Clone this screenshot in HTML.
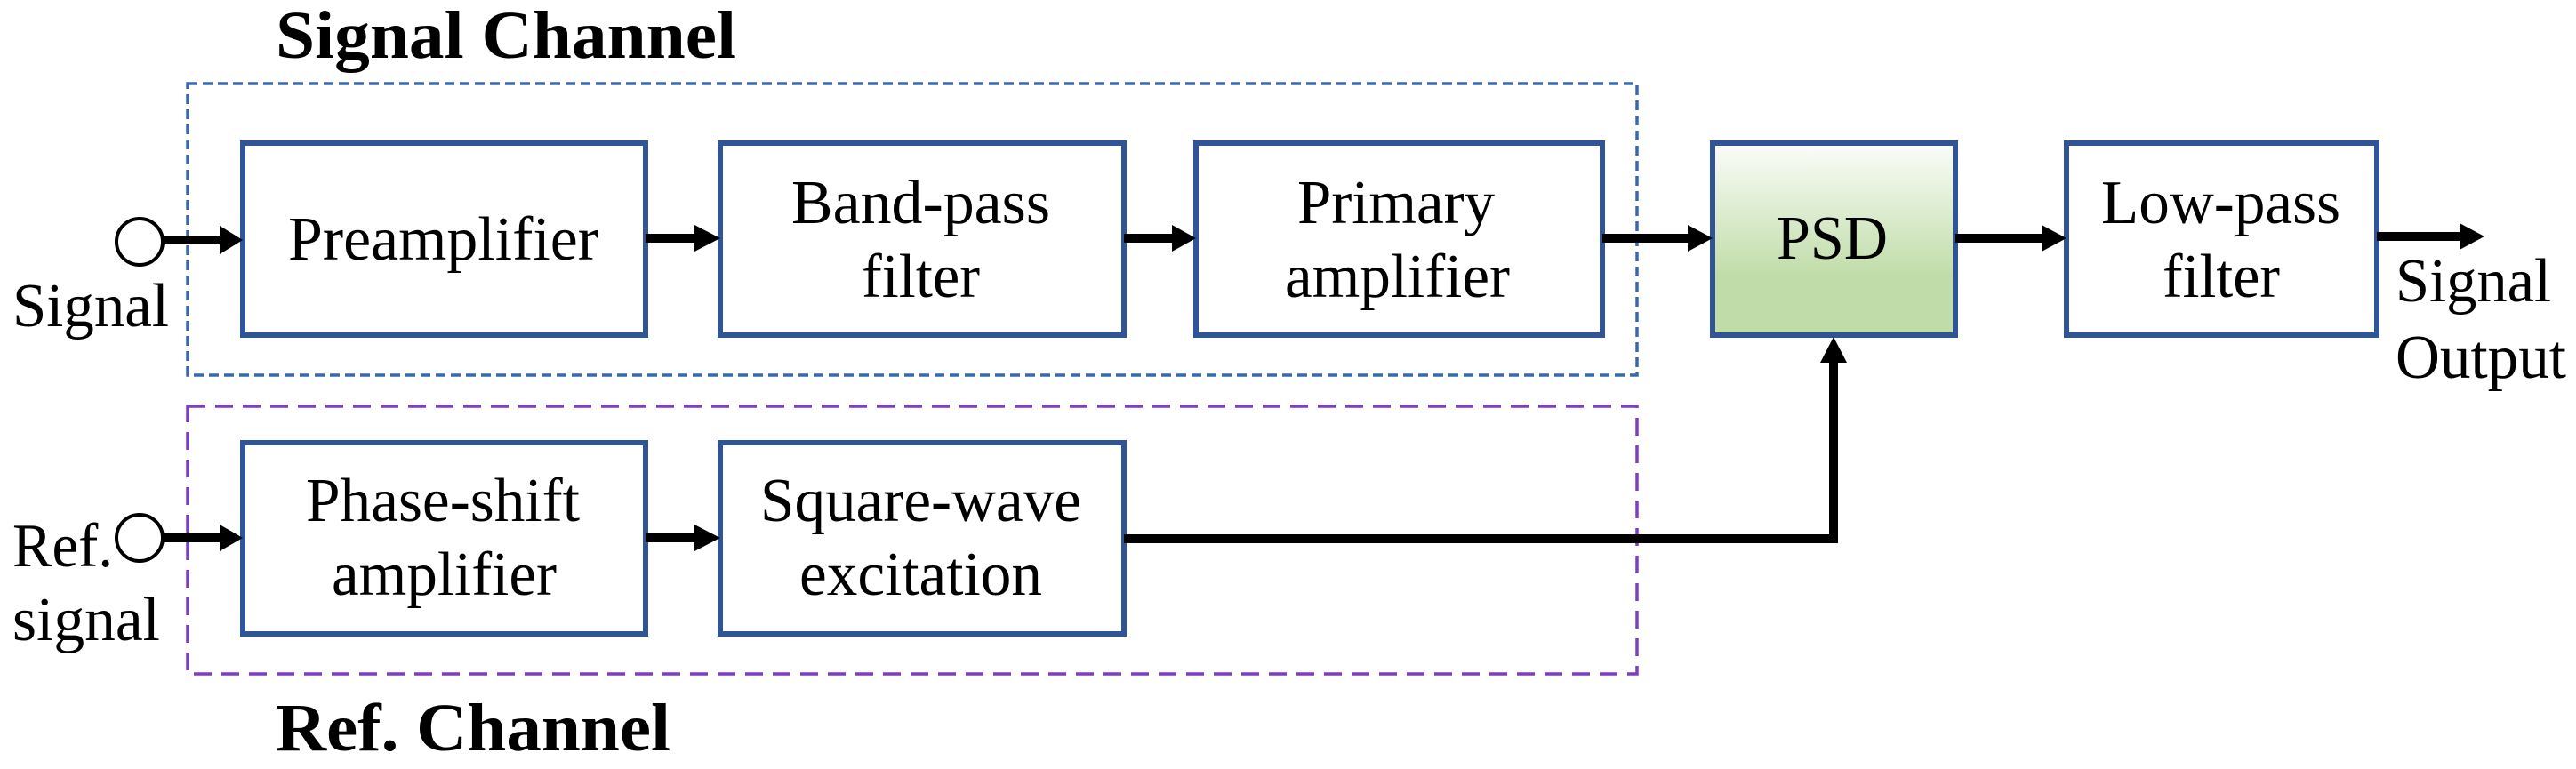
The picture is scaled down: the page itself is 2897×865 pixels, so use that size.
<!DOCTYPE html>
<html><head><meta charset="utf-8"><style>html,body{margin:0;padding:0;background:#fff}svg{display:block}</style></head>
<body>
<svg width="2897" height="865" viewBox="0 0 2897 865" xmlns="http://www.w3.org/2000/svg" font-family="Liberation Serif, serif">
<defs>
<linearGradient id="g" x1="0" y1="0" x2="0" y2="1"><stop offset="0" stop-color="#fbfdf9"/><stop offset="0.7" stop-color="#c0dca8"/><stop offset="1" stop-color="#c0dca8"/></linearGradient>
</defs>
<rect x="211" y="94" width="1630" height="328" fill="none" stroke="#3a68b0" stroke-width="3.5" stroke-dasharray="11,6"/>
<rect x="211" y="457" width="1630" height="301" fill="none" stroke="#7b3fc0" stroke-width="3.5" stroke-dasharray="20,11"/>
<g fill="#fff" stroke="#2f5597" stroke-width="6">
<rect x="273" y="161" width="453" height="216"/>
<rect x="810" y="161" width="454" height="216"/>
<rect x="1345" y="161" width="457" height="216"/>
<rect x="1926" y="161" width="273" height="216" fill="url(#g)"/>
<rect x="2324" y="161" width="349" height="216"/>
<rect x="273" y="498" width="453" height="215"/>
<rect x="810" y="498" width="454" height="215"/>
</g>
<circle cx="157" cy="272" r="26" fill="#fff" stroke="#000" stroke-width="4"/>
<circle cx="157" cy="605" r="26" fill="#fff" stroke="#000" stroke-width="4"/>
<g stroke="#000" stroke-width="10" fill="none">
<line x1="183" y1="270" x2="250" y2="270"/>
<line x1="726" y1="268" x2="785" y2="268"/>
<line x1="1264" y1="268" x2="1322" y2="268"/>
<line x1="1802" y1="268" x2="1902" y2="268"/>
<line x1="2199" y1="268" x2="2300" y2="268"/>
<line x1="2673" y1="266" x2="2770" y2="266"/>
<line x1="183" y1="605" x2="250" y2="605"/>
<line x1="726" y1="605" x2="785" y2="605"/>
<polyline points="1264,606 2062,606 2062,405"/>
</g>
<g fill="#000">
<polygon points="247,254 273,270 247,286"/>
<polygon points="781,253 810,268 781,283"/>
<polygon points="1318,253 1345,268 1318,283"/>
<polygon points="1898,253 1926,268 1898,283"/>
<polygon points="2296,253 2324,268 2296,283"/>
<polygon points="2766,251 2794,266 2766,281"/>
<polygon points="247,590 273,605 247,620"/>
<polygon points="781,590 810,605 781,620"/>
<polygon points="2047,408 2062,379 2077,408"/>
</g>
<g font-size="70" fill="#000">
<text x="324" y="292" textLength="349" lengthAdjust="spacingAndGlyphs">Preamplifier</text>
<text x="890" y="251" textLength="291" lengthAdjust="spacingAndGlyphs">Band-pass</text>
<text x="969" y="334" textLength="133" lengthAdjust="spacingAndGlyphs">filter</text>
<text x="1459" y="251" textLength="222" lengthAdjust="spacingAndGlyphs">Primary</text>
<text x="1445" y="334" textLength="253" lengthAdjust="spacingAndGlyphs">amplifier</text>
<text x="1998" y="291" textLength="125" lengthAdjust="spacingAndGlyphs">PSD</text>
<text x="2363" y="251" textLength="269" lengthAdjust="spacingAndGlyphs">Low-pass</text>
<text x="2432" y="334" textLength="132" lengthAdjust="spacingAndGlyphs">filter</text>
<text x="2694" y="339" textLength="175" lengthAdjust="spacingAndGlyphs">Signal</text>
<text x="2694" y="425" textLength="192" lengthAdjust="spacingAndGlyphs">Output</text>
<text x="14" y="367" textLength="176" lengthAdjust="spacingAndGlyphs">Signal</text>
<text x="14" y="637" textLength="113" lengthAdjust="spacingAndGlyphs">Ref.</text>
<text x="14" y="720" textLength="166" lengthAdjust="spacingAndGlyphs">signal</text>
<text x="344" y="586" textLength="308" lengthAdjust="spacingAndGlyphs">Phase-shift</text>
<text x="373" y="669" textLength="253" lengthAdjust="spacingAndGlyphs">amplifier</text>
<text x="855" y="586" textLength="361" lengthAdjust="spacingAndGlyphs">Square-wave</text>
<text x="899" y="669" textLength="273" lengthAdjust="spacingAndGlyphs">excitation</text>
</g>
<g font-size="76" font-weight="bold" fill="#000">
<text x="310" y="65" textLength="518" lengthAdjust="spacingAndGlyphs">Signal Channel</text>
<text x="310" y="844" textLength="444" lengthAdjust="spacingAndGlyphs">Ref. Channel</text>
</g>
</svg>
</body></html>
